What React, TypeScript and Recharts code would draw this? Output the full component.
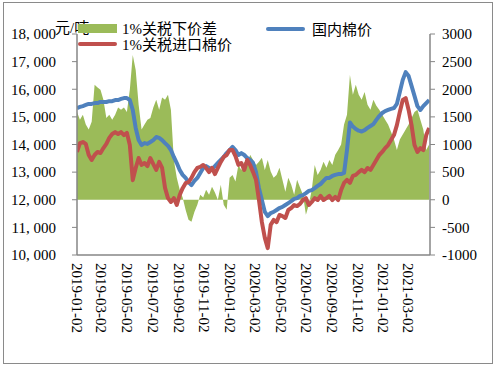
import React from 'react';
import { ComposedChart, Area, Line, XAxis, YAxis } from 'recharts';

// Weekly samples starting 2019-01-02
const startDate = '2019-01-02';
const stepDays = 7;

const tickLabels = [
  '2019-01-02', '2019-03-02', '2019-05-02', '2019-07-02', '2019-09-02', '2019-11-02',
  '2020-01-02', '2020-03-02', '2020-05-02', '2020-07-02', '2020-09-02', '2020-11-02',
  '2021-01-02', '2021-03-02',
];
const leftTicks = [10000, 11000, 12000, 13000, 14000, 15000, 16000, 17000, 18000];
const rightTicks = [-1000, -500, 0, 500, 1000, 1500, 2000, 2500, 3000];

const seriesNames = ['1%关税下价差', '国内棉价', '1%关税进口棉价'];
const unitLabel = '元/吨';

// 1% tariff price spread (right axis)
const spread = [
  1590, 1450, 1540, 1360, 1270, 1410, 2080, 2030, 1990, 1810,
  1480, 1540, 1450, 1540, 1670, 1630, 1670, 1590, 1990, 2620,
  2350, 1720, 1270, 1360, 1450, 1480, 1670, 1810, 1630, 1850,
  1810, 1900, 1630, 720, 400, 180, 40, -180, -360, -400,
  -220, -90, 90, 40, 180, 90, 235, 130, 0, 270,
  -90, -180, 400, 450, 330, 630, 540, 690, 630, 815,
  720, 630, 690, 760, 540, 720, 510, 400, 450, 580,
  360, 145, 400, 270, 90, 360, 220, 90, -270, -90,
  180, 630, 450, 540, 690, 580, 720, 630, 815, 900,
  1000, 1360, 1540, 2260, 1900, 2080, 1900, 1810, 1950, 1720,
  1630, 1810, 1700, 1630, 1540, 1450, 1360, 1230, 1090, 900,
  1090, 1180, 1270, 1360, 1480, 1590, 1630, 1450, 1270, 900, 1000,
];

// Domestic cotton price (left axis)
const domestic = [
  15320, 15360, 15390, 15430, 15470, 15470, 15500, 15500, 15540, 15540,
  15540, 15570, 15570, 15610, 15610, 15650, 15680, 15680, 15610, 15250,
  14600, 14160, 13980, 14050, 14020, 14090, 14160, 14270, 14240, 14160,
  14050, 13950, 13800, 13550, 13330, 13080, 12900, 12790, 12640, 12530,
  12680, 12790, 12970, 13150, 13220, 13150, 13110, 13220, 13330, 13440,
  13550, 13690, 13800, 13910, 13800, 13620, 13690, 13620, 13510, 13440,
  13330, 13000, 12420, 11990, 11560, 11410, 11520, 11560, 11630, 11700,
  11740, 11810, 11880, 11950, 12030, 12060, 12140, 12170, 12240, 12320,
  12350, 12420, 12500, 12570, 12680, 12790, 12790, 12860, 12900, 12930,
  12930, 12970, 13800, 14800, 14650, 14560, 14500, 14470, 14520, 14600,
  14670, 14740, 14890, 15030, 15140, 15210, 15250, 15290, 15320, 15470,
  15900, 16340, 16620, 16480, 16120, 15760, 15390, 15250, 15390, 15500, 15610,
];

// Imported cotton price under 1% tariff (left axis)
const imported = [
  13730, 14050, 14090, 14020, 13620, 13440, 13620, 13730, 13690, 13870,
  14020, 14240, 14380, 14450, 14380, 14450, 14340, 14420, 13980, 12710,
  13150, 13510, 13260, 13330, 13220, 13510, 13290, 13080, 13370, 13150,
  12430, 12060, 11920, 12060, 11810, 12170, 12420, 12600, 12640, 12790,
  13000, 13150, 13190, 13260, 13150, 13000, 13150, 12930, 13150, 13370,
  13550, 13620, 13800, 13800, 13580, 13260, 13330, 13080, 13440, 13260,
  13000, 12720, 11990, 11190, 10620, 10250, 11090, 11270, 11190, 11450,
  11410, 11340, 11630, 11700, 11810, 11770, 11850, 11990, 12060, 11810,
  11920, 12060, 11990, 12140, 11990, 12060, 12140, 11990, 12100, 11990,
  12350, 12610, 12720, 12610, 12860, 12900, 13000, 13080, 13000, 13150,
  13080, 13260, 13440, 13620, 13730, 13870, 13980, 14160, 14340, 14700,
  15180, 15610, 15680, 15250, 14700, 13980, 13730, 13870, 13800, 14340, 14600,
];

const GREEN = '#9BBB59';
const BLUE = '#4F81BD';
const RED = '#C0504D';
const AXIS = '#868686';
const FONT = "'Liberation Serif', 'Times New Roman', 'Noto Sans CJK SC', serif";

const dayOf = (s: string) => {
  const [y, m, d] = s.split('-').map(Number);
  const [y0, m0, d0] = startDate.split('-').map(Number);
  return Math.round((Date.UTC(y, m - 1, d) - Date.UTC(y0, m0 - 1, d0)) / 86400000);
};

const data = spread.map((v, i) => ({
  day: i * stepDays,
  spread: v,
  domestic: domestic[i],
  imported: imported[i],
}));

const xTicks = tickLabels.map(dayOf);
const labelByDay: Record<number, string> = {};
tickLabels.forEach((l) => { labelByDay[dayOf(l)] = l; });

const DateTick = (props: any) => {
  const { x, y, payload } = props;
  return (
    <text
      transform={`translate(${x},${y}) rotate(90)`}
      x={0}
      y={0}
      dy="0.35em"
      textAnchor="start"
      fontSize={15}
      fontFamily={FONT}
      fill="#000"
    >
      {labelByDay[payload.value]}
    </text>
  );
};

const fmtLeft = (v: number) => {
  const s = String(v);
  return s.slice(0, s.length - 3) + ', ' + s.slice(s.length - 3);
};

export default function App() {
  return (
    <div style={{ position: 'absolute', left: 0, top: 0, width: 496, height: 367, background: '#fff' }}>
      <div
        style={{
          position: 'absolute', left: 3, top: 2, width: 490, height: 362,
          border: '1px solid #8a8a8a', boxSizing: 'border-box',
        }}
      />
      <div style={{ position: 'absolute', left: 0, top: 0 }}>
        <ComposedChart
          width={496}
          height={367}
          data={data}
          margin={{ top: 34, right: 6, left: 7, bottom: 12 }}
        >
          <XAxis
            dataKey="day"
            type="number"
            domain={[0, 842]}
            ticks={xTicks}
            interval={0}
            tick={<DateTick />}
            tickLine={false}
            tickSize={0}
            tickMargin={8}
            height={100}
            axisLine={{ stroke: AXIS, strokeWidth: 1.5 }}
            allowDataOverflow
          />
          <YAxis
            yAxisId="left"
            orientation="left"
            width={70}
            domain={[10000, 18000]}
            ticks={leftTicks}
            interval={0}
            tickFormatter={fmtLeft}
            tick={{ fontSize: 15, fontFamily: FONT, fill: '#000' }}
            tickSize={5}
            tickMargin={16}
            axisLine={{ stroke: AXIS, strokeWidth: 1.5 }}
            tickLine={{ stroke: AXIS }}
            allowDataOverflow
          />
          <YAxis
            yAxisId="right"
            orientation="right"
            width={60}
            domain={[-1000, 3000]}
            ticks={rightTicks}
            interval={0}
            tick={{ fontSize: 15, fontFamily: FONT, fill: '#000' }}
            tickSize={5}
            tickMargin={7}
            axisLine={{ stroke: AXIS, strokeWidth: 1.5 }}
            tickLine={{ stroke: AXIS }}
            allowDataOverflow
          />
          <Area
            yAxisId="right"
            dataKey="spread"
            name={seriesNames[0]}
            type="linear"
            fill={GREEN}
            fillOpacity={1}
            stroke="none"
            baseValue={0}
            isAnimationActive={false}
          />
          <Line
            yAxisId="left"
            dataKey="domestic"
            name={seriesNames[1]}
            type="linear"
            stroke={BLUE}
            strokeWidth={4}
            strokeLinejoin="round"
            dot={false}
            isAnimationActive={false}
          />
          <Line
            yAxisId="left"
            dataKey="imported"
            name={seriesNames[2]}
            type="linear"
            stroke={RED}
            strokeWidth={4}
            strokeLinejoin="round"
            dot={false}
            isAnimationActive={false}
          />
        </ComposedChart>
      </div>
      <svg
        width={496}
        height={60}
        style={{ position: 'absolute', left: 0, top: 0, pointerEvents: 'none' }}
      >
        <text x={55} y={28} dominantBaseline="central" fontSize={15} fontFamily={FONT} fill="#000">
          {unitLabel}
        </text>
        <rect x={78} y={24} width={39} height={9} fill={GREEN} />
        <text x={122} y={29} dominantBaseline="central" fontSize={15} fontFamily={FONT} fill="#000">
          {seriesNames[0]}
        </text>
        <line x1={268} y1={29} x2={303} y2={29} stroke={BLUE} strokeWidth={4} strokeLinecap="round" />
        <text x={312} y={30} dominantBaseline="central" fontSize={15} fontFamily={FONT} fill="#000">
          {seriesNames[1]}
        </text>
        <line x1={80} y1={44} x2={115} y2={44} stroke={RED} strokeWidth={4} strokeLinecap="round" />
        <text x={122} y={45} dominantBaseline="central" fontSize={15} fontFamily={FONT} fill="#000">
          {seriesNames[2]}
        </text>
      </svg>
    </div>
  );
}
